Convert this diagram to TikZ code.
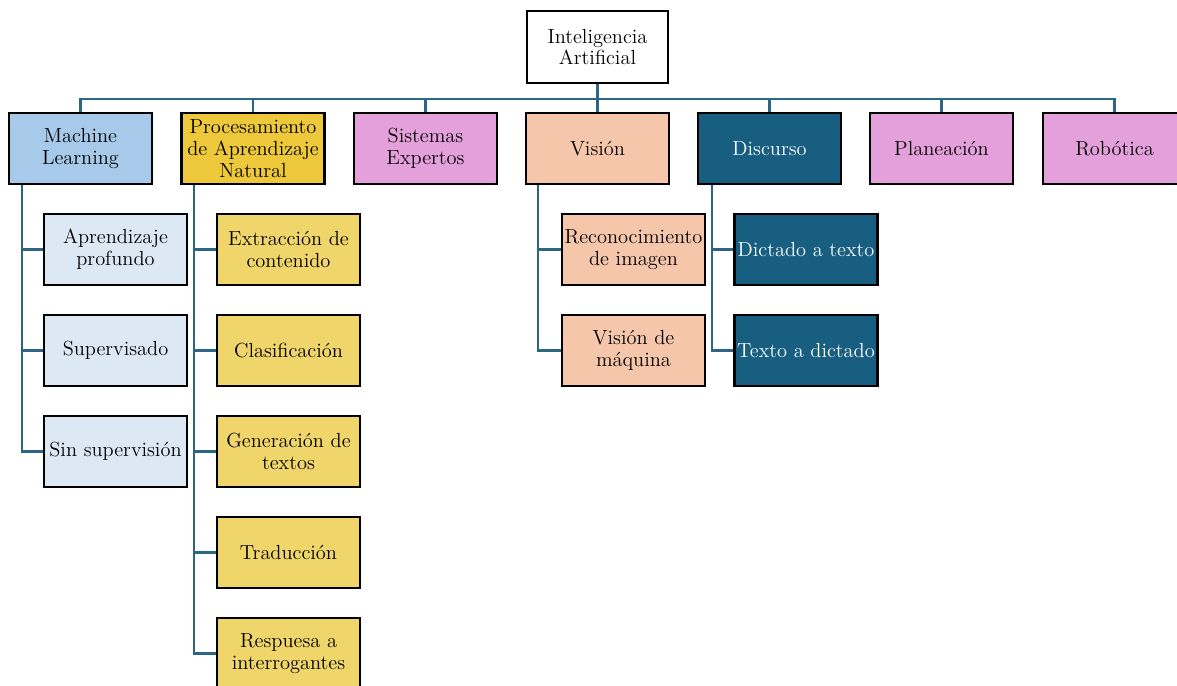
\documentclass[tikz,border=0pt]{standalone}
\usepackage{tikz}

\definecolor{linkcol}{HTML}{2B6684}
\definecolor{mlcol}{HTML}{A7C9EA}
\definecolor{mlsub}{HTML}{DDE8F5}
\definecolor{plncol}{HTML}{ECC83A}
\definecolor{plnsub}{HTML}{F0D56A}
\definecolor{pinkcol}{HTML}{E4A0DA}
\definecolor{viscol}{HTML}{F5C6AA}
\definecolor{discol}{HTML}{175E80}

\tikzset{
  box/.style={draw=black, line width=1.8pt, minimum width=3.575cm,
    minimum height=1.775cm, inner sep=1pt, align=center,
    font=\fontsize{14.5}{15.4}\selectfont},
  link/.style={draw=linkcol, line width=1.7pt}
}

\begin{document}
\begin{tikzpicture}[x=0.025cm, y=-0.025cm]
\clip (0, 0) rectangle (1177, 685);
\fill[white] (0, 0) rectangle (1177, 685);
% root
\node[box, fill=white, minimum width=3.525cm, minimum height=1.8cm] (ai) at (597.5, 47) {Inteligencia\\Artificial};
% first level
\node[box, fill=mlcol] (ml) at (80.5, 148.5) {Machine\\Learning};
\node[box, fill=plncol] (pln) at (253, 148.5) {Procesamiento\\de Aprendizaje\\Natural};
\node[box, fill=pinkcol] (se) at (425.5, 148.5) {Sistemas\\Expertos};
\node[box, fill=viscol] (vis) at (597.5, 148.5) {Visión};
\node[box, fill=discol, text=white] (dis) at (769.5, 148.5) {Discurso};
\node[box, fill=pinkcol] (pla) at (941.5, 148.5) {Planeación};
\node[box, fill=pinkcol] (rob) at (1114.5, 148.5) {Robótica};
\foreach \n in {ml, pln, se, vis, dis, pla, rob}
    \draw[link] (ai.south) -- ++(0, 15) -| (\n.north);
% machine learning
\node[box, fill=mlsub] (ml1) at (115.5, 249.5) {Aprendizaje\\profundo};
\node[box, fill=mlsub] (ml2) at (115.5, 350.5) {Supervisado};
\node[box, fill=mlsub] (ml3) at (115.5, 451.5) {Sin supervisión};
\foreach \n in {ml1, ml2, ml3}
    \draw[link] ([xshift=0.35cm]ml.south west) |- (\n.west);
% procesamiento
\node[box, fill=plnsub] (pln1) at (288.5, 249.5) {Extracción de\\contenido};
\node[box, fill=plnsub] (pln2) at (288.5, 350.5) {Clasificación};
\node[box, fill=plnsub] (pln3) at (288.5, 451.5) {Generación de\\textos};
\node[box, fill=plnsub] (pln4) at (288.5, 552.5) {Traducción};
\node[box, fill=plnsub] (pln5) at (288.5, 653.5) {Respuesa a\\interrogantes};
\foreach \n in {pln1, pln2, pln3, pln4, pln5}
    \draw[link] ([xshift=0.35cm]pln.south west) |- (\n.west);
% vision
\node[box, fill=viscol] (vis1) at (633.5, 249.5) {Reconocimiento\\de imagen};
\node[box, fill=viscol] (vis2) at (633.5, 350.5) {Visión de\\máquina};
\foreach \n in {vis1, vis2}
    \draw[link] ([xshift=0.325cm]vis.south west) |- (\n.west);
% discurso
\node[box, fill=discol, text=white] (dis1) at (806, 249.5) {Dictado a texto};
\node[box, fill=discol, text=white] (dis2) at (806, 350.5) {Texto a dictado};
\foreach \n in {dis1, dis2}
    \draw[link] ([xshift=0.375cm]dis.south west) |- (\n.west);
\end{tikzpicture}
\end{document}
